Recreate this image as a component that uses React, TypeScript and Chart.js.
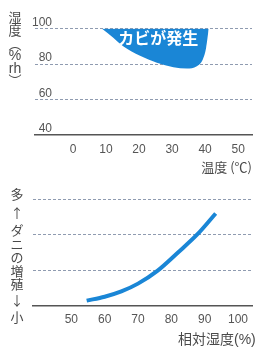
import React, { useEffect, useRef } from 'react';
import { Chart, registerables } from 'chart.js';
Chart.register(...registerables);

// ---- data ----
const moldTemp = [8.7, 12.2, 15.2, 20.3, 25.4, 30.4, 34.5, 37.5, 39.3, 40.3, 41.1];
const moldRH = [100, 94.8, 90.0, 84.6, 80.7, 78.2, 77.4, 78.8, 82.6, 89.0, 100];
const tempTicks = [0, 10, 20, 30, 40, 50];
const miteRH = [54.6, 60, 65, 70, 75.8, 82, 87.7, 93.3];
const miteLevel = [0.14, 0.25, 0.4, 0.62, 0.98, 1.5, 2.0, 2.6];
const rhTicks = [50, 60, 70, 80, 90, 100];
const moldLabel = 'カビが発生';
const topXTitle = '温度 (℃)';
const bottomXTitle = '相対湿度(%)';
const topYTitle = ['湿', '度', '︵', '%', 'rh', '︶'];
const bottomYTitle = ['多', '↑', 'ダ', 'ニ', 'の', '増', '殖', '↓', '小'];

const BLUE = '#1a86d6';
const GRID = '#8f9bb0';
const AXIS = '#555555';
const TEXT = '#4a4a4a';
const FONT = '"Liberation Sans", "Noto Sans CJK JP", sans-serif';
const CJK = '"Noto Sans CJK JP", "Liberation Sans", sans-serif';

const vTitle = (chars: string[], ys: number[], x: number) => ({
  id: 'vtitle',
  afterDraw(chart: any) {
    const ctx = chart.ctx;
    ctx.save();
    ctx.fillStyle = TEXT;
    ctx.textAlign = 'center';
    ctx.textBaseline = 'middle';
    chars.forEach((c, i) => {
      ctx.font = /^[a-z%]+$/.test(c) ? `14px ${FONT}` : `13px ${CJK}`;
      ctx.fillText(c, x, ys[i]);
    });
    ctx.restore();
  },
});

const hTitle = (text: string, x: number, y: number) => ({
  id: 'htitle',
  afterDraw(chart: any) {
    const ctx = chart.ctx;
    ctx.save();
    ctx.fillStyle = TEXT;
    ctx.font = `14px ${FONT}`;
    ctx.textAlign = 'left';
    ctx.textBaseline = 'middle';
    ctx.fillText(text, x, y);
    ctx.restore();
  },
});

const moldText = {
  id: 'moldText',
  afterDatasetsDraw(chart: any) {
    const ctx = chart.ctx;
    const x = chart.scales.x.getPixelForValue(25.8);
    const y = chart.scales.y.getPixelForValue(94.6);
    ctx.save();
    ctx.font = `bold 16px ${CJK}`;
    ctx.fillStyle = '#ffffff';
    ctx.textAlign = 'center';
    ctx.textBaseline = 'middle';
    ctx.fillText(moldLabel, x, y);
    ctx.restore();
  },
};

const gridColor = (minVal: number) => (ctx: any) =>
  ctx.tick && ctx.tick.value === minVal ? 'rgba(0,0,0,0)' : GRID;

export default function App() {
  const topRef = useRef<HTMLCanvasElement>(null);
  const botRef = useRef<HTMLCanvasElement>(null);

  useEffect(() => {
    const top = new Chart(topRef.current!, {
      type: 'line',
      data: {
        datasets: [
          {
            data: moldTemp.map((t, i) => ({ x: t, y: moldRH[i] })),
            fill: { value: 100 },
            backgroundColor: BLUE,
            borderColor: BLUE,
            borderWidth: 0,
            pointRadius: 0,
            cubicInterpolationMode: 'monotone',
          } as any,
        ],
      },
      options: {
        responsive: false,
        animation: false,
        layout: { padding: { top: 28.5, right: 6, left: 0, bottom: 0 } },
        plugins: { legend: { display: false }, tooltip: { enabled: false } },
        scales: {
          x: {
            type: 'linear',
            min: -11.5,
            max: 54.2,
            afterBuildTicks: (s: any) => {
              s.ticks = tempTicks.map((v) => ({ value: v }));
            },
            afterFit: (s: any) => {
              s.height = 40;
            },
            grid: { display: false, drawTicks: false },
            border: { display: true, color: AXIS, width: 1.5 },
            ticks: { padding: 7, color: AXIS, font: { family: FONT, size: 12 }, autoSkip: false, maxRotation: 0 },
            title: {
              display: true,
              text: topXTitle,
              align: 'end',
              color: TEXT,
              font: { family: CJK, size: 13 },
              padding: { top: 0, bottom: 0 },
            },
          },
          y: {
            type: 'linear',
            min: 40,
            max: 100,
            afterFit: (s: any) => {
              s.width = 35;
            },
            ticks: {
              stepSize: 20,
              mirror: true,
              crossAlign: 'far',
              padding: -3,
              labelOffset: -6,
              color: AXIS,
              font: { family: FONT, size: 12 },
            },
            grid: { drawTicks: false, color: gridColor(40), lineWidth: 1 },
            border: { display: false, dash: [3, 2] },
          },
        },
      } as any,
      plugins: [moldText, vTitle(topYTitle, [17, 30, 44, 56, 69, 80], 15)],
    });

    const bot = new Chart(botRef.current!, {
      type: 'line',
      data: {
        datasets: [
          {
            data: miteRH.map((r, i) => ({ x: r, y: miteLevel[i] })),
            borderColor: BLUE,
            borderWidth: 4,
            pointRadius: 0,
            fill: false,
            cubicInterpolationMode: 'monotone',
          } as any,
        ],
      },
      options: {
        responsive: false,
        animation: false,
        layout: { padding: { top: 24.3, right: 6, left: 0, bottom: 0 } },
        plugins: { legend: { display: false }, tooltip: { enabled: false } },
        scales: {
          x: {
            type: 'linear',
            min: 38.5,
            max: 104.2,
            afterBuildTicks: (s: any) => {
              s.ticks = rhTicks.map((v) => ({ value: v }));
            },
            afterFit: (s: any) => {
              s.height = 41.4;
            },
            grid: { display: false, drawTicks: false },
            border: { display: true, color: AXIS, width: 1.5 },
            ticks: { padding: 7, color: AXIS, font: { family: FONT, size: 12 }, autoSkip: false, maxRotation: 0 },
          },
          y: {
            type: 'linear',
            min: 0,
            max: 3,
            afterFit: (s: any) => {
              s.width = 33;
            },
            ticks: { stepSize: 1, display: false },
            grid: { drawTicks: false, color: gridColor(0), lineWidth: 1 },
            border: { display: false, dash: [3, 2] },
          },
        },
      } as any,
      plugins: [
        vTitle(bottomYTitle, [19, 38, 55, 69, 82, 96, 109, 125, 142], 17),
        hTitle(bottomXTitle, 178, 165),
      ],
    });

    return () => {
      top.destroy();
      bot.destroy();
    };
  }, []);

  return (
    <div style={{ position: 'absolute', left: 0, top: 0, width: 258, height: 347, background: '#ffffff' }}>
      <canvas ref={topRef} width={258} height={175} style={{ display: 'block' }} />
      <canvas ref={botRef} width={258} height={172} style={{ display: 'block' }} />
    </div>
  );
}
